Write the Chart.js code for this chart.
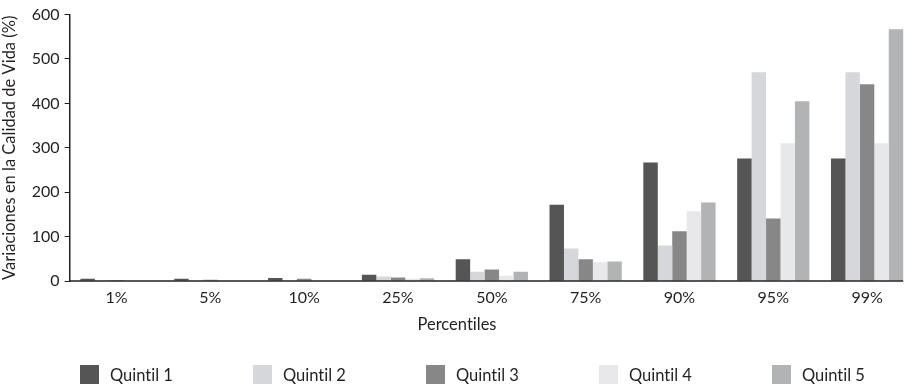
<!DOCTYPE html>
<html>
<head>
<meta charset="utf-8">
<script src="https://cdn.jsdelivr.net/npm/chart.js@4/dist/chart.umd.min.js"></script>
<style>
  html, body { margin: 0; padding: 0; background: #fff; }
  #wrap { position: relative; width: 916px; height: 385px; }
  #chart { position: absolute; left: 0; top: 0; }
  #legend { position: absolute; left: 80px; top: 365px; display: flex; font-family: Lato, sans-serif; font-size: 16.5px; color: #231f20; font-variant-ligatures: none; }
  #legend .item { width: 173px; display: flex; align-items: center; height: 19px; }
  #legend .box { width: 19px; height: 19px; margin-right: 11px; flex: none; }
</style>
</head>
<body>
<div id="wrap">
  <canvas id="chart" width="916" height="385"></canvas>
  <div id="legend"></div>
</div>
<script>
// Percentiles of the distribution
const categories = ['1%', '5%', '10%', '25%', '50%', '75%', '90%', '95%', '99%'];

// Variation in quality of life (%) by income quintile
const quintil1 = [5, 5, 7, 14, 49, 172, 267, 276, 276];
const quintil2 = [1, 1, 1, 10, 21, 73, 80, 470, 470];
const quintil3 = [2, 3, 5, 8, 26, 49, 112, 141, 443];
const quintil4 = [1, 1, 1, 5, 12, 42, 157, 310, 310];
const quintil5 = [1, 1, 1, 6, 21, 44, 177, 405, 567];

const seriesNames = ['Quintil 1', 'Quintil 2', 'Quintil 3', 'Quintil 4', 'Quintil 5'];
const yTicks = [0, 100, 200, 300, 400, 500, 600];

const colors = ['#555555', '#d6d7db', '#878787', '#e8e8ea', '#b2b3b5'];
const series = [quintil1, quintil2, quintil3, quintil4, quintil5];

const ink = '#231f20';
const tickFont = { family: 'Lato, sans-serif', size: 16 };
const titleFont = { family: 'Lato, sans-serif', size: 16.5 };

// Plain glyphs, no "ti" ligatures
const plainText = {
  id: 'plainText',
  beforeDraw(chart) { chart.ctx.textRendering = 'optimizeSpeed'; }
};

// Category axis line, running from the value axis to the outer edge of the last bar
const baseLine = {
  id: 'baseLine',
  afterDatasetsDraw(chart) {
    const { ctx, chartArea } = chart;
    const meta = chart.getDatasetMeta(chart.data.datasets.length - 1);
    const bar = meta.data[meta.data.length - 1];
    const right = bar.x + bar.width / 2;
    ctx.save();
    ctx.strokeStyle = ink;
    ctx.lineWidth = 1.5;
    ctx.beginPath();
    ctx.moveTo(chartArea.left, chartArea.bottom);
    ctx.lineTo(right, chartArea.bottom);
    ctx.stroke();
    ctx.restore();
  }
};

const chart = new Chart(document.getElementById('chart'), {
  type: 'bar',
  data: {
    labels: categories,
    datasets: series.map((values, i) => ({
      label: seriesNames[i],
      data: values,
      backgroundColor: colors[i],
      borderWidth: 0,
      categoryPercentage: 0.77,
      barPercentage: 1.0
    }))
  },
  options: {
    responsive: false,
    animation: false,
    layout: { padding: { top: 12, right: 2, bottom: 50, left: 0 } },
    plugins: {
      legend: { display: false },
      tooltip: { enabled: false },
      title: {
        display: true,
        text: 'Percentiles',
        position: 'bottom',
        weight: 500,
        color: ink,
        font: { family: titleFont.family, size: titleFont.size, weight: 'normal' },
        padding: { top: 1, bottom: 0 }
      }
    },
    scales: {
      x: {
        grid: { display: false, drawTicks: false },
        border: { display: false },
        ticks: { color: ink, font: tickFont, padding: 7, maxRotation: 0 }
      },
      y: {
        min: 0,
        max: 600,
        afterBuildTicks: (axis) => { axis.ticks = yTicks.map(v => ({ value: v })); },
        grid: { drawOnChartArea: false, drawTicks: true, tickLength: 5, color: ink, lineWidth: 1 },
        border: { display: true, color: ink, width: 1.5 },
        ticks: { color: ink, font: tickFont, padding: 5 },
        title: {
          display: true,
          text: 'Variaciones en la Calidad de Vida (%)',
          color: ink,
          font: titleFont,
          padding: { top: 0, bottom: 7 }
        }
      }
    }
  },
  plugins: [plainText, baseLine]
});

// Legend built from the chart's datasets
const legendEl = document.getElementById('legend');
chart.data.datasets.forEach(ds => {
  const item = document.createElement('div');
  item.className = 'item';
  const box = document.createElement('span');
  box.className = 'box';
  box.style.background = ds.backgroundColor;
  const label = document.createElement('span');
  label.textContent = ds.label;
  item.appendChild(box);
  item.appendChild(label);
  legendEl.appendChild(item);
});
</script>
</body>
</html>
